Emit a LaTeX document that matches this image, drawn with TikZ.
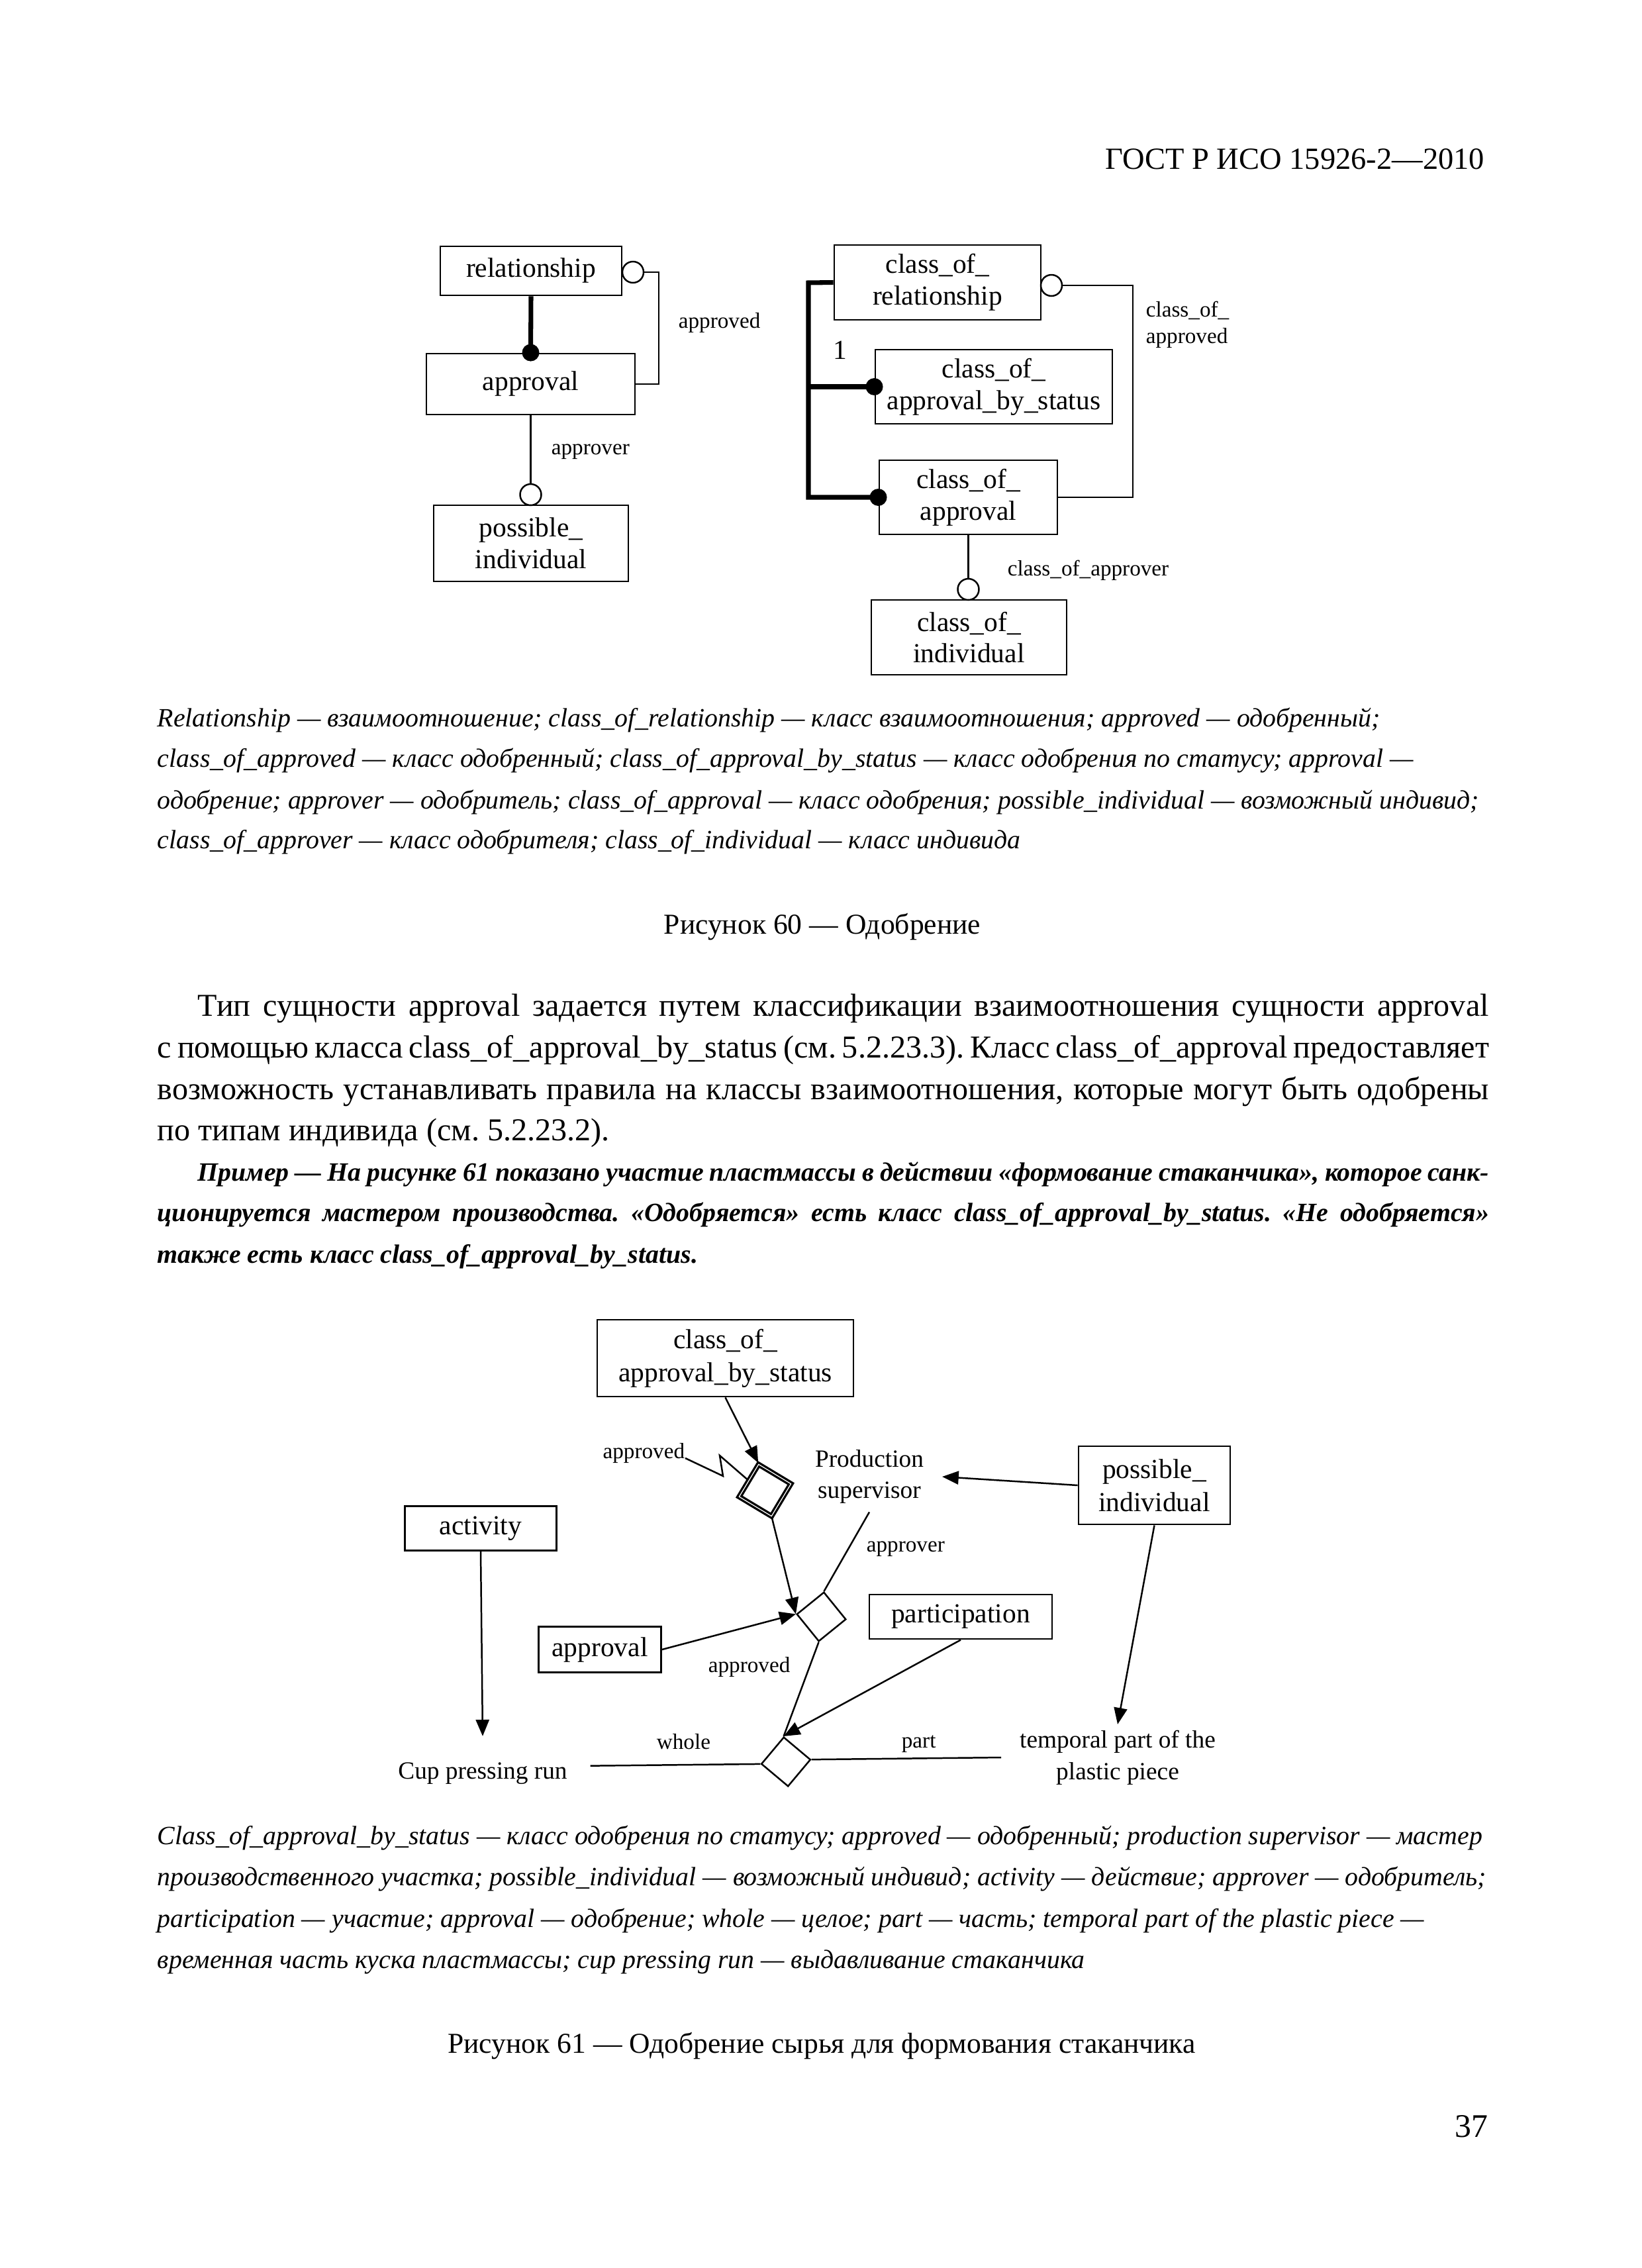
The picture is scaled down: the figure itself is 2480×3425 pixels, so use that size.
\documentclass[tikz,border=0pt]{standalone}
\usepackage{fontspec}
\setmainfont{Liberation Serif}
\usetikzlibrary{arrows.meta, shapes.geometric, positioning}
\newlength\px \setlength\px{0.08467mm}
\newlength\fullw \setlength\fullw{170.3mm}
\newlength\indw \setlength\indw{165.1mm}
\frenchspacing

\begin{document}
\begin{tikzpicture}[x=0.08467mm, y=-0.08467mm,
    box/.style={draw, line width=0.7pt, inner sep=0pt, align=center, font=\fontsize{10}{11.5}\selectfont},
    boxb/.style={box, font=\fontsize{10}{12}\selectfont},
    sz/.style 2 args={minimum width=#1*\px, minimum height=#2*\px},
    lbl/.style={inner sep=0pt, anchor=base west, font=\fontsize{8}{9.6}\selectfont},
    lblb/.style={inner sep=0pt, align=center, font=\fontsize{9}{11.5}\selectfont},
    ring/.style={circle, draw, line width=0.6pt, fill=white, inner sep=0pt, minimum size=32*\px},
    dot/.style={circle, fill, inner sep=0pt, minimum size=26*\px},
    heavy/.style={line width=1.7pt},
    link/.style={line width=0.6pt},
    arr/.style={link, -{Triangle[length=2.1mm, width=1.7mm]}},
    rhomb/.style={diamond, draw, fill=white, line width=0.6pt, inner sep=0pt, minimum width=#1*\px, minimum height=#1*\px},
    capline/.style={anchor=base west, inner sep=0pt, font=\fontsize{9.6}{12}\selectfont\itshape},
    txt/.style={anchor=base west, inner sep=0pt, font=\fontsize{11.6}{15}\selectfont},
    note/.style={anchor=base west, inner sep=0pt, font=\fontsize{9.6}{12}\selectfont\bfseries\itshape},
  ]
  \path[use as bounding box, fill=white] (0,0) rectangle (2480,3425);

  % page head and foot
  \node[anchor=base east, inner sep=0pt, font=\fontsize{11.2}{13}\selectfont] (hdr) at (2243,255) {ГОСТ Р ИСО 15926-2—2010};
  \node[anchor=base east, inner sep=0pt, font=\fontsize{12}{15}\selectfont] (pgno) at (2248,3227) {37};

  % figure 60, left part
  \node[box, sz={274}{74}] (rel) at (802,409) {relationship};
  \node[box, sz={315}{92}] (appr) at (801.5,580) {approval};
  \node[box, sz={294}{115}] (pind) at (802,820.5) {possible\_\\individual};
  \node[ring] (cr1) at (956,411) {};
  \node[ring] (cr2) at (801.5,747) {};
  \coordinate (k1) at (995,411);
  \draw[link] (cr1.east) -- (k1) |- (appr.east);
  \draw[heavy] (rel.south) -- (appr.north);
  \node[dot] (d1) at (appr.north) {};
  \draw[link] (appr.south) -- (cr2.north);
  \node[lbl] (l1) at (1024,495) {approved};
  \node[lbl] (l2) at (832,686) {approver};

  % figure 60, right part
  \node[box, sz={312}{113}] (corel) at (1416,426.5) {class\_of\_\\relationship};
  \node[box, sz={358}{112}] (coabs) at (1501,584) {class\_of\_\\approval\_by\_status};
  \node[box, sz={269}{112}] (coappr) at (1462.5,751) {class\_of\_\\approval};
  \node[box, sz={295}{113}] (coind) at (1463.5,962.5) {class\_of\_\\individual};
  \node[ring] (cr3) at (1588,431) {};
  \node[ring] (cr4) at (1462.5,890) {};
  \coordinate (k2) at (1711,431);
  \coordinate (k3) at (1221,427);
  \draw[link] (cr3.east) -- (k2) |- (coappr.east);
  \draw[heavy] (corel.west) -- (k3) |- (coappr.west);
  \draw[heavy] (k3 |- coabs.west) -- (coabs.west);
  \node[dot] (d2) at (coabs.west) {};
  \node[dot] (d3) at (coappr.west) {};
  \draw[link] (coappr.south) -- (cr4.north);
  \node[inner sep=0pt, anchor=base, font=\fontsize{10}{12}\selectfont] (one) at (1269,542) {1};
  \node[lbl, align=left] (l3) at (1730,518) {class\_of\_\\approved};
  \node[lbl] (l4) at (1521,869) {class\_of\_approver};

  % legend of figure 60
  \foreach \yy/\cl in {
      1097/{Relationship — взаимоотношение; class\_of\_relationship — класс взаимоотношения; approved — одобренный;},
      1158/{class\_of\_approved — класс одобренный; class\_of\_approval\_by\_status — класс одобрения по статусу; approval —},
      1221/{одобрение; approver — одобритель; class\_of\_approval — класс одобрения; possible\_individual — возможный индивид;},
      1281/{class\_of\_approver — класс одобрителя; class\_of\_individual — класс индивида}}
    \node[capline] (cap\yy) at (237,\yy) {\cl};
  \node[anchor=base, inner sep=0pt, font=\fontsize{10.5}{12}\selectfont] (t60) at (1242,1410) {Рисунок 60 — Одобрение};

  % running text
  \node[txt] (b1) at (298,1534) {\makebox[\indw][s]{Тип сущности approval задается путем классификации взаимоотношения сущности approval}};
  \node[txt] (b2) at (237,1597) {\makebox[\fullw][s]{с помощью класса class\_of\_approval\_by\_status (см. 5.2.23.3). Класс class\_of\_approval предоставляет}};
  \node[txt] (b3) at (237,1660) {\makebox[\fullw][s]{возможность устанавливать правила на классы взаимоотношения, которые могут быть одобрены}};
  \node[txt] (b4) at (237,1722) {по типам индивида (см. 5.2.23.2).};
  \node[note] (e1) at (298,1783) {\makebox[\indw][s]{Пример — На рисунке 61 показано участие пластмассы в действии «формование стаканчика», которое санк-}};
  \node[note] (e2) at (237,1844) {\makebox[\fullw][s]{ционируется мастером производства. «Одобряется» есть класс class\_of\_approval\_by\_status. «Не одобряется»}};
  \node[note] (e3) at (237,1907) {также есть класс class\_of\_approval\_by\_status.};

  % figure 61
  \node[boxb, sz={387}{116}] (cabs) at (1095.5,2051) {class\_of\_\\approval\_by\_status};
  \node[boxb, sz={229}{118}] (pind2) at (1743.5,2243) {possible\_\\individual};
  \node[boxb, sz={229}{67}] (act) at (726,2308) {activity};
  \node[boxb, sz={276}{67}] (partc) at (1451,2441.5) {participation};
  \node[boxb, sz={185}{69}] (appr2) at (906,2491) {approval};
  \node[rhomb=82, rotate=14, line width=0.8pt, double, double distance=0.3pt] (dA) at (1155.5,2250.5) {};
  \node[rhomb=75, rotate=-6] (dB) at (1240.5,2441.5) {};
  \node[rhomb=75, rotate=5] (dC) at (1187,2660.5) {};
  \node[lblb, inner xsep=2.3mm, inner ysep=1mm] (ps) at (1313,2230) {Production\\supervisor};
  \node[lblb, inner xsep=2.9mm, inner ysep=3.3mm] (cpr) at (729,2678) {Cup pressing run};
  \node[lblb, inner xsep=2.3mm, inner ysep=0.7mm] (tp) at (1688,2654) {temporal part of the\\plastic piece};
  \node[inner sep=0pt, anchor=base east, font=\fontsize{8}{9.6}\selectfont] (l5) at (1035,2202) {approved};
  \node[lbl] (l6) at (1308,2343) {approver};
  \node[lbl] (l7) at (1069,2525) {approved};
  \node[lbl] (l8) at (991,2641) {whole};
  \node[lbl] (l9) at (1361,2639) {part};
  \coordinate (z1) at (1092,2229);
  \coordinate (z2) at (1087,2198);
  \draw[link] (l5.base east) -- (z1) -- (z2) -- (dA.north west);
  \draw[arr] (cabs.south) -- (dA.north);
  \draw[arr] (dA.south) -- (dB.west);
  \draw[arr] (appr2.east) -- (dB.west);
  \draw[link] (ps.south) -- (dB.north);
  \draw[arr] (pind2.west) -- (ps.east);
  \draw[link] (dB.south) -- (dC.north);
  \draw[arr] (partc.south) -- (dC.north);
  \draw[arr] (act.south) -- (cpr.north);
  \draw[link] (cpr.4) -- (dC.west);
  \draw[link] (dC.east) -- (tp.west);
  \draw[arr] (pind2.south) -- (tp.north);

  % legend of figure 61
  \foreach \yy/\cl in {
      2785/{Class\_of\_approval\_by\_status — класс одобрения по статусу; approved — одобренный; production supervisor — мастер},
      2847/{производственного участка; possible\_individual — возможный индивид; activity — действие; approver — одобритель;},
      2910/{participation — участие; approval — одобрение; whole — целое; part — часть; temporal part of the plastic piece —},
      2972/{временная часть куска пластмассы; cup pressing run — выдавливание стаканчика}}
    \node[capline] (cap\yy) at (237,\yy) {\cl};
  \node[anchor=base, inner sep=0pt, font=\fontsize{10.5}{12}\selectfont] (t61) at (1241,3100) {Рисунок 61 — Одобрение сырья для формования стаканчика};
\end{tikzpicture}
\end{document}
